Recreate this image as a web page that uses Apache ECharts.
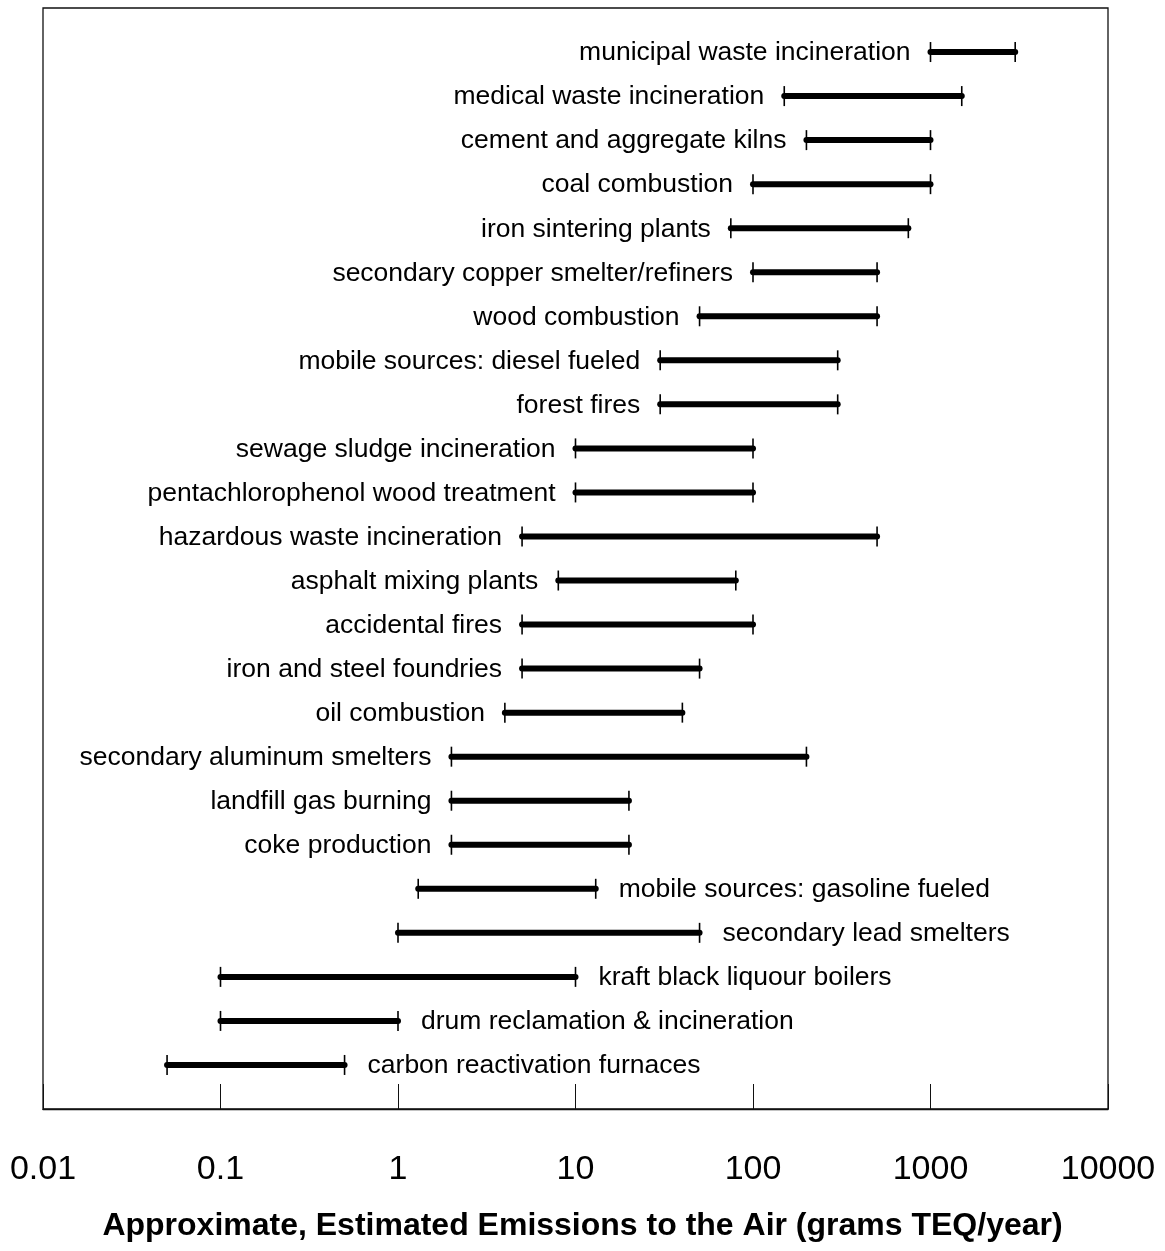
<!DOCTYPE html>
<html>
<head>
<meta charset="utf-8">
<script src="https://cdn.jsdelivr.net/npm/echarts@6/dist/echarts.min.js"></script>
<style>
html,body{margin:0;padding:0;background:#fff;}
#chart{width:1165px;height:1251px;}
</style>
</head>
<body>
<div id="chart"></div>
<script>
const categories = [
  'municipal waste incineration',
  'medical waste incineration',
  'cement and aggregate kilns',
  'coal combustion',
  'iron sintering plants',
  'secondary copper smelter/refiners',
  'wood combustion',
  'mobile sources: diesel fueled',
  'forest fires',
  'sewage sludge incineration',
  'pentachlorophenol wood treatment',
  'hazardous waste incineration',
  'asphalt mixing plants',
  'accidental fires',
  'iron and steel foundries',
  'oil combustion',
  'secondary aluminum smelters',
  'landfill gas burning',
  'coke production',
  'mobile sources: gasoline fueled',
  'secondary lead smelters',
  'kraft black liquour boilers',
  'drum reclamation & incineration',
  'carbon reactivation furnaces'
];
const lowValues  = [1000, 150, 200, 100, 75, 100, 50, 30, 30, 10, 10, 5, 8, 5, 5, 4, 2, 2, 2, 1.3, 1, 0.1, 0.1, 0.05];
const highValues = [3000, 1500, 1000, 1000, 750, 500, 500, 300, 300, 100, 100, 500, 80, 100, 50, 40, 200, 20, 20, 13, 50, 10, 1, 0.5];
const xTickLabels = ['0.01', '0.1', '1', '10', '100', '1000', '10000'];
const axisTitle = 'Approximate, Estimated Emissions to the Air (grams TEQ/year)';

// rows from this index onward carry their label on the right of the bar
const firstRightLabelRow = 19;

const FONT = "'Liberation Sans', Arial, Helvetica, sans-serif";

const seriesData = categories.map((c, i) => [lowValues[i], highValues[i], i + 1, i]);

const chart = echarts.init(document.getElementById('chart'), null, {renderer: 'canvas'});

chart.setOption({
  animation: false,
  backgroundColor: '#ffffff',
  title: {
    text: axisTitle,
    left: 'center',
    top: 1210,
    padding: 0,
    textStyle: {fontFamily: FONT, fontSize: 32, fontWeight: 'bold', color: '#000'}
  },
  grid: {
    left: 43, right: 57, top: 8, bottom: 142,
    show: true, borderColor: '#111', borderWidth: 1.3, backgroundColor: 'transparent'
  },
  xAxis: {
    type: 'log',
    logBase: 10,
    min: 0.01,
    max: 10000,
    splitLine: {show: false},
    axisLine: {show: true, onZero: false, lineStyle: {color: '#111', width: 1.3}},
    axisTick: {show: true, inside: true, length: 25, lineStyle: {color: '#111', width: 1}},
    minorTick: {show: false},
    axisLabel: {
      show: true,
      margin: 44,
      fontFamily: FONT,
      fontSize: 34,
      color: '#000',
      formatter: function (v) {
        const i = Math.round(Math.log10(v)) + 2;
        return xTickLabels[i] !== undefined ? xTickLabels[i] : '';
      }
    }
  },
  yAxis: {
    type: 'value',
    min: 0,
    max: 25,
    inverse: true,
    show: false
  },
  series: [{
    type: 'custom',
    clip: false,
    encode: {x: [0, 1], y: 2},
    data: seriesData,
    renderItem: function (params, api) {
      const lo = api.value(0), hi = api.value(1), row = api.value(2), idx = api.value(3);
      const p1 = api.coord([lo, row]);
      const p2 = api.coord([hi, row]);
      const capH = 10;
      const right = idx >= firstRightLabelRow;
      return {
        type: 'group',
        children: [
          {
            type: 'line',
            shape: {x1: p1[0], y1: p1[1], x2: p2[0], y2: p2[1]},
            style: {stroke: '#000', lineWidth: 6, lineCap: 'round'}
          },
          {
            type: 'line',
            shape: {x1: p1[0], y1: p1[1] - capH, x2: p1[0], y2: p1[1] + capH},
            style: {stroke: '#000', lineWidth: 1.6}
          },
          {
            type: 'line',
            shape: {x1: p2[0], y1: p2[1] - capH, x2: p2[0], y2: p2[1] + capH},
            style: {stroke: '#000', lineWidth: 1.6}
          },
          {
            type: 'text',
            style: {
              text: categories[idx],
              x: right ? p2[0] + 23 : p1[0] - 20,
              y: p1[1] + 1,
              align: right ? 'left' : 'right',
              verticalAlign: 'middle',
              fontFamily: FONT,
              fontSize: 26.5,
              fill: '#000'
            }
          }
        ]
      };
    }
  }]
});
</script>
</body>
</html>
